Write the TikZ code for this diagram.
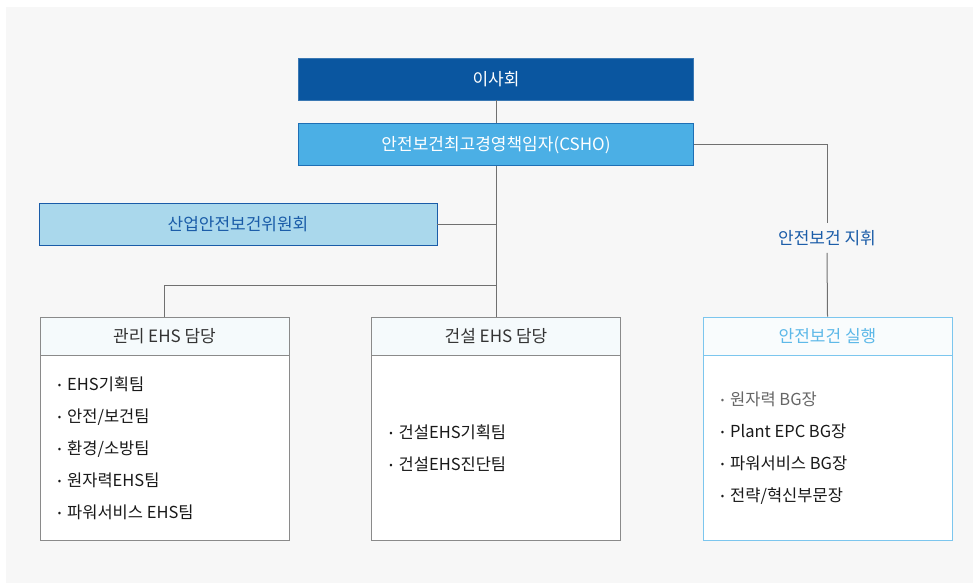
\documentclass[tikz,border=0pt]{standalone}
\usepackage{fontspec}
\setmainfont{Noto Sans CJK KR}
\usetikzlibrary{positioning,calc}

\definecolor{boardblue}{HTML}{0A56A0}
\definecolor{csoblue}{HTML}{4BAFE5}
\definecolor{csoline}{HTML}{1E6FB5}
\definecolor{cmtfill}{HTML}{AAD8EC}
\definecolor{cmtblue}{HTML}{1A5CA8}
\definecolor{skyline}{HTML}{7CC6EE}
\definecolor{skytext}{HTML}{5CB8E8}
\definecolor{headfill}{HTML}{F5FAFC}
\definecolor{pagegray}{HTML}{F7F7F7}
\definecolor{linkgray}{HTML}{707070}
\definecolor{boxgray}{HTML}{8A8A8A}

\newcommand{\orgitem}[1]{\raisebox{2.5pt}{\fontsize{10}{10}\selectfont\textbullet}\hspace{6pt}#1}

\begin{document}
\begin{tikzpicture}[x=1pt,y=-1pt,
  every node/.style={font=\fontsize{17}{20}\selectfont},
  topbox/.style={draw, rectangle, minimum width=395pt, minimum height=42pt, line width=0.8pt},
  headbox/.style={draw=boxgray, rectangle, fill=headfill, minimum width=249pt, minimum height=38pt, line width=0.8pt, text=black!80},
  bodybox/.style={draw=boxgray, rectangle, fill=white, minimum width=249pt, minimum height=185pt, line width=0.8pt},
  itemlist/.style={align=left, font=\fontsize{16.5}{32}\selectfont, text=black!90, inner sep=0pt},
  link/.style={draw=linkgray, line width=1pt}]

% page
\useasboundingbox (0,0) rectangle (973,583);
\fill[pagegray] (6,7) rectangle (973,583);

% top of the chart
\node (board) [topbox, draw=boardblue!80, fill=boardblue, text=white] at (496,79) {이사회};
\node (cso) [topbox, draw=csoline, fill=csoblue, text=white, below=23pt of board] {안전보건최고경영책임자(CSHO)};
\node (committee) [draw=cmtblue, rectangle, fill=cmtfill, text=cmtblue, minimum width=398pt, minimum height=42pt, line width=0.8pt] at (238,224) {산업안전보건위원회};

% lower boxes
\node (mgmthead) [headbox] at (164.5,336) {관리 EHS 담당};
\node (mgmtbody) [bodybox, below=0pt of mgmthead] {};
\node (conhead) [headbox] at (496,336) {건설 EHS 담당};
\node (conbody) [bodybox, below=0pt of conhead] {};
\node (safehead) [headbox, draw=skyline, fill=headfill!60, text=skytext] at (827.5,336) {안전보건 실행};
\node (safebody) [bodybox, draw=skyline, below=0pt of safehead] {};

\node (mgmtlist) [itemlist, anchor=west] at ($(mgmtbody.west)+(18,0)$)
  {\orgitem{EHS기획팀}\\ \orgitem{안전/보건팀}\\ \orgitem{환경/소방팀}\\ \orgitem{원자력EHS팀}\\ \orgitem{파워서비스 EHS팀}};
\node (conlist) [itemlist, anchor=west] at ($(conbody.west)+(18,0)$)
  {\orgitem{건설EHS기획팀}\\ \orgitem{건설EHS진단팀}};
\node (safelist) [itemlist, anchor=west] at ($(safebody.west)+(18,0)$)
  {{\color{black!60}\orgitem{원자력 BG장}}\\ \orgitem{Plant EPC BG장}\\ \orgitem{파워서비스 BG장}\\ \orgitem{전략/혁신부문장}};

% connectors
\node (order) [text=cmtblue, inner xsep=2pt, inner ysep=7pt] at (827,238) {안전보건 지휘};
\coordinate (split) at (496,285);
\coordinate (cmtjoin) at (cso.south |- committee.east);

\draw[link] (board) -- (cso);
\draw[link] (cso) -- (split);
\draw[link] (committee) -- (cmtjoin);
\draw[link] (split) -| (mgmthead.north);
\draw[link] (split) -- (conhead.north);
\draw[link] (cso.east) -| (order.north);
\draw[link] (order.south) -- (safehead.north);
\end{tikzpicture}
\end{document}
